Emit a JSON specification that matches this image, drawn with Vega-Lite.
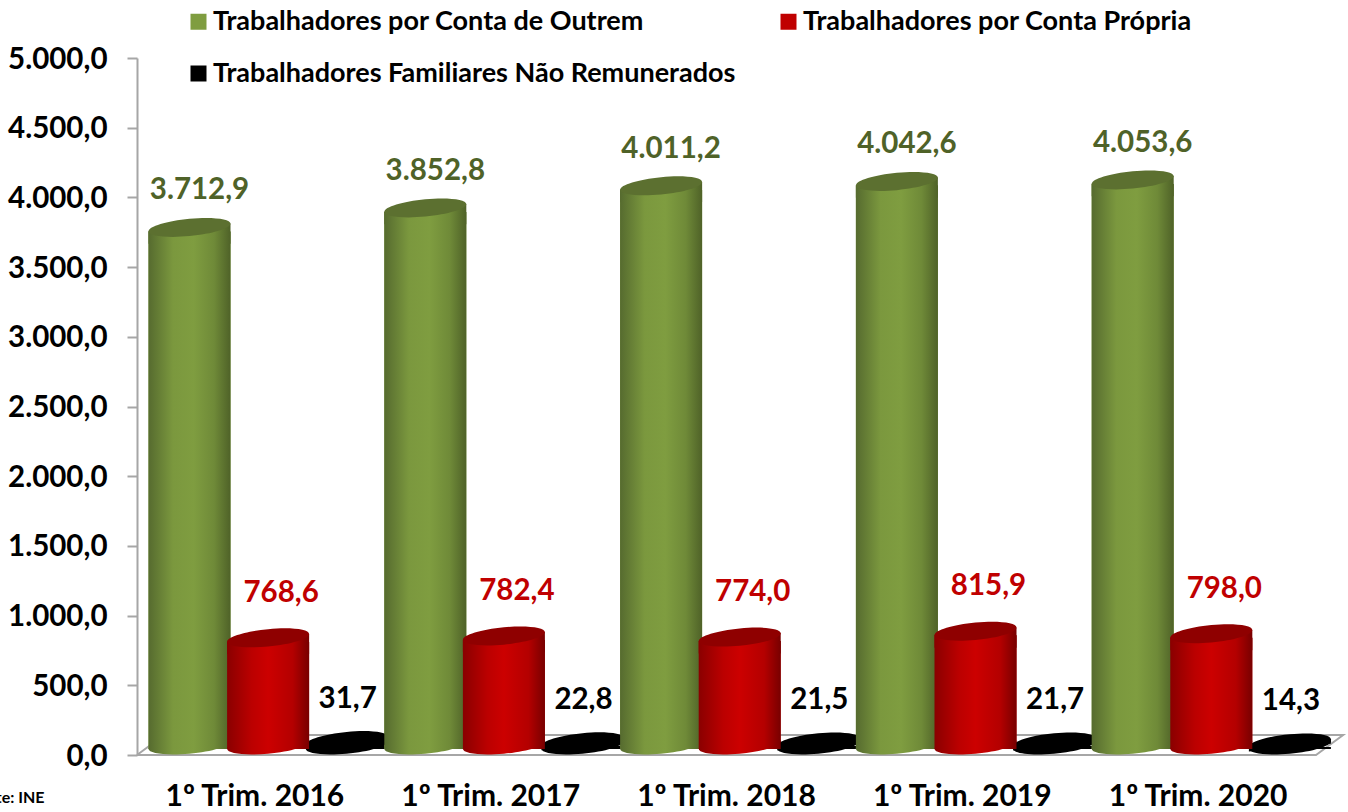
{
"$schema":"https://vega.github.io/schema/vega-lite/v6.json",
"width":1179,"height":697,
"autosize":"none",
"padding":{"left":137,"top":58,"right":32,"bottom":57},
"background":"white",
"config":{"view":{"stroke":null},"locale":{"number":{"decimal":",","thousands":".","grouping":[3],"currency":["","€"]}}},
"datasets":{
"main":[
{"trim":"1º Trim. 2016","series":"Trabalhadores por Conta de Outrem","value":3712.9},
{"trim":"1º Trim. 2016","series":"Trabalhadores por Conta Própria","value":768.6},
{"trim":"1º Trim. 2016","series":"Trabalhadores Familiares Não Remunerados","value":31.7},
{"trim":"1º Trim. 2017","series":"Trabalhadores por Conta de Outrem","value":3852.8},
{"trim":"1º Trim. 2017","series":"Trabalhadores por Conta Própria","value":782.4},
{"trim":"1º Trim. 2017","series":"Trabalhadores Familiares Não Remunerados","value":22.8},
{"trim":"1º Trim. 2018","series":"Trabalhadores por Conta de Outrem","value":4011.2},
{"trim":"1º Trim. 2018","series":"Trabalhadores por Conta Própria","value":774.0},
{"trim":"1º Trim. 2018","series":"Trabalhadores Familiares Não Remunerados","value":21.5},
{"trim":"1º Trim. 2019","series":"Trabalhadores por Conta de Outrem","value":4042.6},
{"trim":"1º Trim. 2019","series":"Trabalhadores por Conta Própria","value":815.9},
{"trim":"1º Trim. 2019","series":"Trabalhadores Familiares Não Remunerados","value":21.7},
{"trim":"1º Trim. 2020","series":"Trabalhadores por Conta de Outrem","value":4053.6},
{"trim":"1º Trim. 2020","series":"Trabalhadores por Conta Própria","value":798.0},
{"trim":"1º Trim. 2020","series":"Trabalhadores Familiares Não Remunerados","value":14.3}
],
"floor":[
{"position":0,"level":0,"step":1},
{"position":5,"level":0,"step":2},
{"position":5.115,"level":143,"step":3},
{"position":0.115,"level":143,"step":4},
{"position":0,"level":0,"step":5}
]
},
"resolve":{"scale":{"x":"independent"},"axis":{"x":"independent","y":"independent"}},
"layer":[
{"data":{"name":"floor"},
 "mark":{"type":"line","stroke":"#a6a6a6","strokeWidth":2,"interpolate":"linear"},
 "encoding":{
  "x":{"field":"position","type":"quantitative","scale":{"domain":[0,5],"nice":false,"zero":false},"axis":null},
  "y":{"field":"level","type":"quantitative","scale":{"domain":[0,5000],"nice":false},
    "axis":{"title":null,"orient":"left","values":[0,500,1000,1500,2000,2500,3000,3500,4000,4500,5000],"format":",.1f","grid":false,"domain":true,"ticks":true,"labels":true,"domainColor":"#a6a6a6","domainWidth":2,"tickColor":"#a6a6a6","tickWidth":2,"tickSize":10,"labelPadding":20,"labelOffset":1,"labelFont":"Lato","labelFontWeight":"bold","labelFontSize":29.5,"labelColor":"#000000"}},
  "order":{"field":"step","type":"quantitative"}
 }},
{"data":{"name":"main"},
 "encoding":{
  "x":{"field":"trim","type":"nominal","sort":null,"scale":{"padding":0,"paddingInner":0,"paddingOuter":0},
    "axis":{"title":"Fonte: INE","titleFont":"Lato","titleFontWeight":"bold","titleFontSize":16,"titleColor":"#000000","titleX":-93,"titleY":42,"titleAlign":"right","titleBaseline":"middle","titleAngle":0,
      "domain":false,"ticks":false,"labelFont":"Lato","labelFontWeight":"bold","labelFontSize":30,"labelColor":"#000000","labelAngle":0,"labelPadding":41,"labelBaseline":"middle","grid":false}},
  "xOffset":{"field":"series","type":"nominal","sort":null,"scale":{"domain":["Trabalhadores por Conta de Outrem","Trabalhadores por Conta Própria","Trabalhadores Familiares Não Remunerados"],"range":[13.2,249],"paddingInner":0,"paddingOuter":0}},
  "y":{"field":"value","type":"quantitative","scale":{"domain":[0,5000],"nice":false},"axis":null}
 },
 "layer":[
  {"mark":{"type":"bar","width":82,"yOffset":-6,"y2Offset":-10},
   "encoding":{"color":{"field":"series","type":"nominal","sort":null,"scale":{"domain":["Trabalhadores por Conta de Outrem","Trabalhadores por Conta Própria","Trabalhadores Familiares Não Remunerados"],"range":["#7f9d40","#c00000","#000000"]},
     "legend":{"title":null,"orient":"none","legendX":48,"legendY":-50,"direction":"horizontal","columns":2,"symbolType":"square","symbolSize":256,"symbolStrokeWidth":0,"labelFont":"Lato","labelFontWeight":"bold","labelFontSize":27,"labelColor":"#000000","labelOffset":1,"columnPadding":39,"rowPadding":24,"labelLimit":700}}}},
  {"transform":[{"filter":"datum.series === 'Trabalhadores Familiares Não Remunerados'"}],
   "mark":{"type":"point","filled":true,"opacity":1,"size":6724,"yOffset":-10,"fill":"#000000","strokeWidth":0,"shape":"M1,-0.094 C1,0.0231 0.5523,0.1601 0,0.212 C-0.5523,0.2639 -1,0.2111 -1,0.094 C-1,-0.0231 -0.5523,-0.1601 0,-0.212 C0.5523,-0.2639 1,-0.2111 1,-0.094 Z"},
   "encoding":{"y":{"datum":0,"type":"quantitative"}}},
  {"transform":[{"filter":"datum.series === 'Trabalhadores Familiares Não Remunerados'"}],
   "mark":{"type":"point","filled":true,"opacity":1,"size":6724,"yOffset":-10,"fill":"#000000","strokeWidth":0,"shape":"M-1,0.094 L1,-0.094 L1,0.02 L-1,0.208 Z"}},
  {"transform":[{"filter":"datum.series === 'Trabalhadores Familiares Não Remunerados'"}],
   "mark":{"type":"point","filled":true,"opacity":1,"size":6724,"yOffset":-10,"fill":"#000000","strokeWidth":0,"shape":"M1,-0.094 C1,0.0231 0.5523,0.1601 0,0.212 C-0.5523,0.2639 -1,0.2111 -1,0.094 C-1,-0.0231 -0.5523,-0.1601 0,-0.212 C0.5523,-0.2639 1,-0.2111 1,-0.094 Z"}},
  {"transform":[{"filter":"datum.series === 'Trabalhadores por Conta de Outrem'"}],
   "mark":{"type":"point","filled":true,"opacity":1,"size":6724,"yOffset":-10,"strokeWidth":0,"shape":"M1,-0.094 C1,0.0231 0.5523,0.1601 0,0.212 C-0.5523,0.2639 -1,0.2111 -1,0.094 C-1,-0.0231 -0.5523,-0.1601 0,-0.212 C0.5523,-0.2639 1,-0.2111 1,-0.094 Z",
     "fill":{"gradient":"linear","x1":0,"y1":0,"x2":1,"y2":0,"stops":[{"offset":0,"color":"#566b2f"},{"offset":0.3,"color":"#7b983e"},{"offset":0.55,"color":"#7f9d40"},{"offset":0.8,"color":"#6f8a38"},{"offset":1,"color":"#4f6228"}]}},
   "encoding":{"y":{"datum":0,"type":"quantitative"}}},
  {"transform":[{"filter":"datum.series === 'Trabalhadores por Conta de Outrem'"}],
   "mark":{"type":"bar","width":82,"yOffset":-6,"y2Offset":-10,
     "fill":{"gradient":"linear","x1":0,"y1":0,"x2":1,"y2":0,"stops":[{"offset":0,"color":"#566b2f"},{"offset":0.3,"color":"#7b983e"},{"offset":0.55,"color":"#7f9d40"},{"offset":0.8,"color":"#6f8a38"},{"offset":1,"color":"#4f6228"}]}}},
  {"transform":[{"filter":"datum.series === 'Trabalhadores por Conta de Outrem'"}],
   "mark":{"type":"point","filled":true,"opacity":1,"size":6724,"yOffset":-10,"strokeWidth":0,"shape":"M-1,0.094 L1,-0.094 L1,0.4 L-1,0.4 Z",
     "fill":{"gradient":"linear","x1":0,"y1":0,"x2":1,"y2":0,"stops":[{"offset":0,"color":"#566b2f"},{"offset":0.3,"color":"#7b983e"},{"offset":0.55,"color":"#7f9d40"},{"offset":0.8,"color":"#6f8a38"},{"offset":1,"color":"#4f6228"}]}}},
  {"transform":[{"filter":"datum.series === 'Trabalhadores por Conta de Outrem'"}],
   "mark":{"type":"point","filled":true,"opacity":1,"size":6724,"yOffset":-10,"fill":"#5c7030","strokeWidth":0,"shape":"M1,-0.094 C1,0.0231 0.5523,0.1601 0,0.212 C-0.5523,0.2639 -1,0.2111 -1,0.094 C-1,-0.0231 -0.5523,-0.1601 0,-0.212 C0.5523,-0.2639 1,-0.2111 1,-0.094 Z"}},
  {"transform":[{"filter":"datum.series === 'Trabalhadores por Conta Própria'"}],
   "mark":{"type":"point","filled":true,"opacity":1,"size":6724,"yOffset":-10,"strokeWidth":0,"shape":"M1,-0.094 C1,0.0231 0.5523,0.1601 0,0.212 C-0.5523,0.2639 -1,0.2111 -1,0.094 C-1,-0.0231 -0.5523,-0.1601 0,-0.212 C0.5523,-0.2639 1,-0.2111 1,-0.094 Z",
     "fill":{"gradient":"linear","x1":0,"y1":0,"x2":1,"y2":0,"stops":[{"offset":0,"color":"#8a0000"},{"offset":0.3,"color":"#bb0000"},{"offset":0.5,"color":"#cc0000"},{"offset":0.8,"color":"#b40000"},{"offset":1,"color":"#780000"}]}},
   "encoding":{"y":{"datum":0,"type":"quantitative"}}},
  {"transform":[{"filter":"datum.series === 'Trabalhadores por Conta Própria'"}],
   "mark":{"type":"bar","width":82,"yOffset":-6,"y2Offset":-10,
     "fill":{"gradient":"linear","x1":0,"y1":0,"x2":1,"y2":0,"stops":[{"offset":0,"color":"#8a0000"},{"offset":0.3,"color":"#bb0000"},{"offset":0.5,"color":"#cc0000"},{"offset":0.8,"color":"#b40000"},{"offset":1,"color":"#780000"}]}}},
  {"transform":[{"filter":"datum.series === 'Trabalhadores por Conta Própria'"}],
   "mark":{"type":"point","filled":true,"opacity":1,"size":6724,"yOffset":-10,"strokeWidth":0,"shape":"M-1,0.094 L1,-0.094 L1,0.4 L-1,0.4 Z",
     "fill":{"gradient":"linear","x1":0,"y1":0,"x2":1,"y2":0,"stops":[{"offset":0,"color":"#8a0000"},{"offset":0.3,"color":"#bb0000"},{"offset":0.5,"color":"#cc0000"},{"offset":0.8,"color":"#b40000"},{"offset":1,"color":"#780000"}]}}},
  {"transform":[{"filter":"datum.series === 'Trabalhadores por Conta Própria'"}],
   "mark":{"type":"point","filled":true,"opacity":1,"size":6724,"yOffset":-10,"fill":"#8f0000","strokeWidth":0,"shape":"M1,-0.094 C1,0.0231 0.5523,0.1601 0,0.212 C-0.5523,0.2639 -1,0.2111 -1,0.094 C-1,-0.0231 -0.5523,-0.1601 0,-0.212 C0.5523,-0.2639 1,-0.2111 1,-0.094 Z"}},
  {"transform":[{"filter":"datum.series === 'Trabalhadores por Conta de Outrem'"}],
   "mark":{"type":"text","font":"Lato","fontWeight":"bold","fontSize":29.5,"color":"#4f6228","dx":10,"dy":-47,"baseline":"middle"},
   "encoding":{"text":{"field":"value","type":"quantitative","format":",.1f"}}},
  {"transform":[{"filter":"datum.series === 'Trabalhadores por Conta Própria'"}],
   "mark":{"type":"text","font":"Lato","fontWeight":"bold","fontSize":29.5,"color":"#c00000","dx":13,"dy":-55,"baseline":"middle"},
   "encoding":{"text":{"field":"value","type":"quantitative","format":",.1f"}}},
  {"transform":[{"filter":"datum.series === 'Trabalhadores Familiares Não Remunerados'"}],
   "mark":{"type":"text","font":"Lato","fontWeight":"bold","fontSize":29.5,"color":"#000000","dx":1,"dy":-52,"baseline":"middle"},
   "encoding":{"text":{"field":"value","type":"quantitative","format":",.1f"}}}
 ]}
]
}
